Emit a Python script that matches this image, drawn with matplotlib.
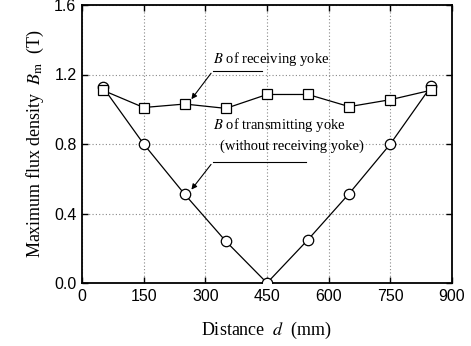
import matplotlib
matplotlib.use("Agg")
import matplotlib.pyplot as plt

distance = [50, 150, 250, 350, 450, 550, 650, 750, 850]
b_receiving = [1.11, 1.01, 1.03, 1.005, 1.085, 1.085, 1.015, 1.055, 1.11]
b_transmitting = [1.13, 0.80, 0.51, 0.24, 0.0, 0.25, 0.515, 0.80, 1.135]
xticks = [0, 150, 300, 450, 600, 750, 900]
yticks = [0.0, 0.4, 0.8, 1.2, 1.6]

plt.rcParams['mathtext.fontset'] = 'stix'
serif = 'Liberation Serif'
sans = 'Liberation Sans'

fig = plt.figure(figsize=(4.71, 3.46), dpi=100)
ax = fig.add_axes([82/471, 63/346, 370/471, 278/346])

ax.plot(distance, b_transmitting, color='black', lw=0.9, marker='o', ms=7.5,
        mfc='white', mec='black', mew=0.9, zorder=3)
ax.plot(distance, b_receiving, color='black', lw=0.9, marker='s', ms=7,
        mfc='white', mec='black', mew=0.9, zorder=4)

ax.set_xlim(0, 900)
ax.set_ylim(0, 1.6)
ax.set_xticks(xticks)
ax.set_yticks(yticks)
ax.set_xticklabels([str(v) for v in xticks], fontfamily=sans, fontsize=11.5)
ax.set_yticklabels([f"{v:.1f}" for v in yticks], fontfamily=sans, fontsize=11.5)
ax.tick_params(direction='in', top=True, right=True, length=4, width=1.0, pad=4)
ax.grid(True, linestyle=(0, (1, 2)), color='#888888', lw=0.8)
for s in ax.spines.values():
    s.set_linewidth(1.3)

ax.set_xlabel(r"Distance  $\it{d}$  (mm)", fontfamily=serif, fontsize=13, labelpad=12)
ax.set_ylabel(r"Maximum flux density  $\it{B}_{\rm m}$  (T)", fontfamily=serif, fontsize=13, labelpad=6)

# annotations
ax.text(318, 1.235, r"$\it{B}$ of receiving yoke", fontfamily=serif, fontsize=10.5,
        ha='left', va='bottom')
ax.plot([318, 438], [1.22, 1.22], color='black', lw=0.8, clip_on=False)
ax.annotate("", xy=(262, 1.045), xytext=(318, 1.22),
            arrowprops=dict(arrowstyle='-|>', color='black', lw=0.8, mutation_scale=8))

ax.text(318, 0.855, r"$\it{B}$ of transmitting yoke", fontfamily=serif, fontsize=10.5,
        ha='left', va='bottom')
ax.text(336, 0.75, "(without receiving yoke)", fontfamily=serif, fontsize=10.5,
        ha='left', va='bottom')
ax.plot([318, 546], [0.695, 0.695], color='black', lw=0.8)
ax.annotate("", xy=(262, 0.525), xytext=(318, 0.695),
            arrowprops=dict(arrowstyle='-|>', color='black', lw=0.8, mutation_scale=8))

fig.savefig("out.png", dpi=100)
